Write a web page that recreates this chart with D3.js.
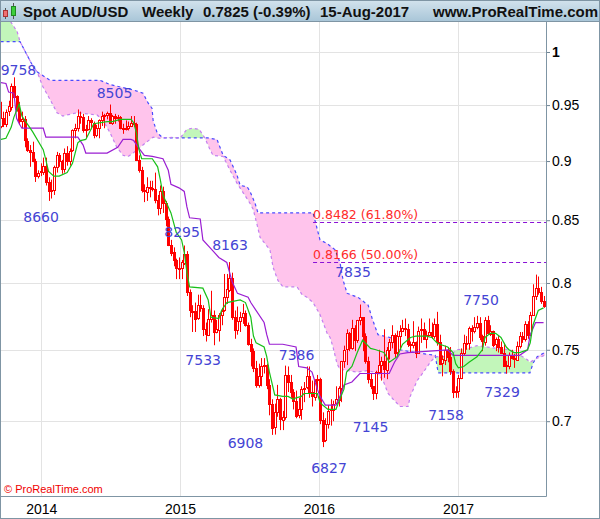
<!DOCTYPE html>
<html><head><meta charset="utf-8">
<script src="https://cdn.jsdelivr.net/npm/d3@7"></script>
<style>body{margin:0;background:#fff}svg{display:block}</style>
</head><body><svg id="c" width="600" height="519"></svg>
<script>
// ---------- DATA ----------
const headerTexts = ["Spot AUD/USD", "Weekly", "0.7825 (-0.39%)", "15-Aug-2017", "www.ProRealTime.com"];
const firstWeek = "2013-09-16";
const opens = [.9310,.9380,.9330,.9440,.9490,.9680,.9580,.9460,.9350,.9370,.9180,.9100,.9080,.9000,.8870,.8900,.8910,.8960,.8820,.8740,
.8750,.8950,.9050,.9000,.8930,.9070,.9000,.9090,.9270,.9290,.9400,.9390,.9270,.9280,.9360,.9340,.9230,.9290,.9360,.9400,
.9410,.9430,.9340,.9400,.9380,.9390,.9290,.9290,.9290,.9310,.9340,.9330,.9010,.8920,.8750,.8740,.8780,.8770,.8760,.8670,
.8600,.8740,.8640,.8510,.8300,.8240,.8180,.8120,.8110,.8160,.8230,.7930,.7790,.7790,.7730,.7830,.7810,.7650,.7610,.7730,
.7760,.7630,.7650,.7760,.7790,.7890,.7950,.8040,.7740,.7640,.7710,.7740,.7770,.7680,.7540,.7490,.7370,.7250,.7310,.7380,
.7390,.7250,.7120,.6960,.7060,.7150,.7010,.7030,.7320,.7270,.7200,.7140,.7040,.7080,.7220,.7230,.7310,.7200,.7170,.7280,
.7290,.7010,.6870,.6980,.7070,.7080,.7120,.7150,.7230,.7420,.7500,.7620,.7510,.7660,.7570,.7720,.7740,.7600,.7420,.7290,
.7240,.7190,.7340,.7390,.7420,.7360,.7500,.7560,.7610,.7480,.7600,.7640,.7660,.7650,.7540,.7540,.7560,.7480,.7640,.7650,
.7580,.7610,.7630,.7600,.7690,.7560,.7400,.7430,.7500,.7450,.7350,.7200,.7210,.7300,.7480,.7550,.7550,.7660,.7640,.7670,
.7700,.7600,.7560,.7720,.7620,.7640,.7540,.7580,.7520,.7480,.7390,.7380,.7460,.7440,.7430,.7530,.7600,.7580,.7690,.7610,
.7760,.7900,.7960,.7930,.7860];
const highs = [.9530,.9440,.9460,.9540,.9700,.9758,.9590,.9530,.9440,.9400,.9200,.9140,.9170,.9020,.8920,.8980,.9030,.9030,.8860,.8840,
.8960,.9080,.9070,.9010,.9110,.9130,.9110,.9280,.9330,.9460,.9440,.9420,.9320,.9400,.9380,.9350,.9320,.9370,.9440,.9420,
.9440,.9505,.9410,.9420,.9410,.9400,.9330,.9360,.9350,.9400,.9400,.9340,.9050,.8950,.8800,.8860,.8830,.8830,.8900,.8710,
.8790,.8780,.8660,.8530,.8340,.8280,.8190,.8200,.8180,.8295,.8250,.7950,.7830,.7850,.7910,.7910,.7830,.7700,.7800,.7940,
.7790,.7720,.7770,.7810,.8070,.8070,.8163,.8080,.7790,.7820,.7780,.7840,.7790,.7700,.7580,.7510,.7420,.7400,.7440,.7440,
.7400,.7290,.7150,.7120,.7250,.7160,.7070,.7386,.7380,.7320,.7220,.7210,.7160,.7240,.7270,.7380,.7380,.7280,.7290,.7320,
.7300,.7060,.7020,.7110,.7150,.7140,.7240,.7240,.7420,.7530,.7650,.7630,.7720,.7680,.7720,.7835,.7740,.7620,.7450,.7330,
.7240,.7350,.7500,.7450,.7650,.7520,.7580,.7680,.7620,.7640,.7680,.7720,.7730,.7690,.7560,.7710,.7560,.7670,.7730,.7700,
.7640,.7730,.7700,.7730,.7780,.7610,.7460,.7530,.7520,.7520,.7360,.7240,.7320,.7510,.7610,.7600,.7670,.7680,.7740,.7750,
.7740,.7610,.7740,.7750,.7680,.7640,.7590,.7600,.7560,.7550,.7420,.7480,.7500,.7470,.7560,.7630,.7630,.7710,.7710,.7780,
.7990,.8065,.8050,.7970,.7900];
const lows = [.9290,.9300,.9300,.9400,.9450,.9570,.9440,.9320,.9290,.9120,.9080,.8950,.8990,.8820,.8850,.8870,.8880,.8790,.8660,.8680,
.8710,.8900,.8950,.8890,.8900,.8960,.8960,.9080,.9200,.9260,.9330,.9250,.9200,.9270,.9280,.9200,.9210,.9200,.9310,.9290,
.9370,.9330,.9320,.9330,.9350,.9280,.9240,.9270,.9270,.9300,.9300,.9000,.8900,.8730,.8650,.8660,.8690,.8740,.8640,.8540,
.8550,.8560,.8450,.8290,.8210,.8130,.8030,.8030,.8030,.8140,.7900,.7740,.7630,.7630,.7720,.7780,.7600,.7560,.7600,.7700,
.7533,.7620,.7560,.7680,.7780,.7840,.7930,.7720,.7580,.7610,.7630,.7690,.7670,.7530,.7380,.7340,.7230,.7230,.7240,.7330,
.7220,.7040,.6908,.6910,.7030,.6940,.6940,.7010,.7200,.7160,.7080,.7020,.7020,.7010,.7130,.7220,.7160,.7100,.7140,.7220,
.6980,.6827,.6860,.6950,.6970,.7000,.7110,.7100,.7130,.7370,.7390,.7490,.7500,.7490,.7550,.7680,.7490,.7400,.7260,.7220,
.7145,.7150,.7330,.7280,.7300,.7290,.7430,.7510,.7440,.7460,.7500,.7630,.7600,.7520,.7480,.7510,.7440,.7480,.7550,.7580,
.7510,.7600,.7580,.7580,.7530,.7390,.7310,.7390,.7410,.7320,.7158,.7160,.7160,.7290,.7460,.7500,.7500,.7560,.7620,.7650,
.7570,.7490,.7530,.7610,.7600,.7520,.7490,.7480,.7470,.7390,.7329,.7360,.7430,.7370,.7430,.7510,.7550,.7560,.7580,.7600,
.7750,.7870,.7910,.7840,.7810];
const closes = [.9380,.9330,.9440,.9490,.9680,.9580,.9460,.9350,.9370,.9180,.9100,.9080,.9000,.8870,.8900,.8910,.8960,.8820,.8740,.8750,
.8950,.9050,.9000,.8930,.9070,.9000,.9090,.9270,.9290,.9400,.9390,.9270,.9280,.9360,.9340,.9230,.9290,.9360,.9400,.9410,
.9430,.9340,.9400,.9380,.9390,.9290,.9290,.9290,.9310,.9340,.9330,.9010,.8920,.8750,.8740,.8780,.8770,.8760,.8670,.8600,
.8740,.8640,.8510,.8300,.8240,.8180,.8120,.8110,.8160,.8230,.7930,.7790,.7790,.7730,.7830,.7810,.7650,.7610,.7730,.7760,
.7630,.7650,.7760,.7790,.7890,.7950,.8040,.7740,.7640,.7710,.7740,.7770,.7680,.7540,.7490,.7370,.7250,.7310,.7380,.7390,
.7250,.7120,.6960,.7060,.7150,.7010,.7030,.7320,.7270,.7200,.7140,.7040,.7080,.7220,.7230,.7310,.7200,.7170,.7280,.7290,
.7010,.6870,.6980,.7070,.7080,.7120,.7150,.7230,.7420,.7500,.7620,.7510,.7660,.7570,.7720,.7740,.7600,.7420,.7290,.7240,
.7190,.7340,.7390,.7420,.7360,.7500,.7560,.7610,.7480,.7600,.7640,.7660,.7650,.7540,.7540,.7560,.7480,.7640,.7650,.7580,
.7610,.7630,.7600,.7690,.7560,.7400,.7430,.7500,.7450,.7350,.7200,.7210,.7300,.7480,.7550,.7550,.7660,.7640,.7670,.7700,
.7600,.7560,.7720,.7620,.7640,.7540,.7580,.7520,.7480,.7390,.7380,.7460,.7440,.7430,.7530,.7600,.7580,.7690,.7610,.7760,
.7900,.7960,.7930,.7860,.7825];

// Ichimoku lines: [week index, price]
const tenkan = [[0,.919],[2,.920],[4,.930],[5,.939],[7,.951],[8,.940],[12,.926],[16,.910],[17,.901],[18,.891],[20,.887],[22,.887],[25,.890],[27,.898],[28,.907],[29,.916],[30,.918],[32,.919],[35,.933],[40,.935],[42,.935],[45,.937],[49,.937],[50,.934],[51,.925],[52,.910],[53,.902],[57,.902],[59,.895],[60,.884],[61,.871],[64,.856],[66,.840],[68,.834],[69,.824],[70,.808],[71,.797],[76,.796],[78,.787],[79,.774],[82,.773],[83,.779],[85,.785],[90,.787],[92,.785],[94,.774],[95,.760],[96,.755],[99,.752],[100,.745],[101,.734],[103,.718],[106,.717],[108,.717],[110,.715],[111,.716],[113,.717],[114,.719],[119,.719],[120,.713],[121,.711],[123,.708],[126,.708],[127,.713],[129,.722],[130,.734],[132,.738],[134,.748],[136,.757],[137,.755],[139,.751],[141,.750],[144,.748],[145,.745],[146,.741],[149,.745],[151,.754],[154,.759],[156,.760],[160,.760],[162,.759],[164,.755],[165,.754],[168,.752],[170,.748],[171,.740],[172,.737],[174,.738],[176,.741],[179,.745],[181,.750],[182,.759],[184,.762],[186,.762],[188,.759],[190,.752],[191,.750],[193,.748],[195,.748],[198,.750],[199,.755],[200,.768],[202,.779],[204,.781]];
const kijun = [[0,.971],[2,.970],[3,.962],[5,.961],[6,.938],[7,.933],[8,.929],[16,.929],[17,.921],[29,.921],[31,.914],[32,.907],[40,.907],[44,.912],[46,.919],[49,.919],[50,.918],[52,.911],[54,.905],[57,.904],[61,.902],[63,.892],[64,.880],[67,.877],[69,.874],[70,.861],[71,.852],[75,.851],[76,.834],[79,.827],[82,.820],[85,.816],[87,.801],[89,.792],[93,.789],[94,.785],[99,.770],[100,.761],[101,.754],[106,.754],[111,.752],[112,.738],[115,.737],[117,.734],[119,.722],[120,.717],[122,.711],[126,.711],[128,.719],[129,.725],[132,.727],[135,.733],[146,.733],[148,.741],[150,.747],[153,.748],[168,.750],[170,.746],[195,.746],[198,.750],[199,.761],[201,.770],[204,.770]];
const spanA = [[0,1.045],[6.2,1.020],[7.3,1.010],[12.2,.986],[13.7,.981],[15.9,.967],[18.6,.955],[21.2,.943],[23.4,.940],[25,.941],[28.7,.943],[32.5,.942],[36.2,.941],[38.5,.936],[41.1,.925],[43.7,.912],[46,.905],[47.9,.904],[49.8,.907],[52.4,.912],[55,.917],[57.3,.921],[59.9,.920],[64.8,.921],[67.4,.920],[70,.928],[72.3,.929],[74.6,.928],[76.8,.920],[78.7,.910],[79.8,.905],[83.6,.904],[84.3,.901],[86.2,.892],[88.8,.881],[91.1,.873],[93.7,.864],[94.9,.859],[96.4,.846],[97.5,.836],[101.2,.826],[102.4,.812],[104.2,.802],[106.1,.797],[111.4,.797],[113.3,.791],[115.1,.789],[117.4,.785],[120,.776],[122.7,.762],[123.8,.759],[124.9,.752],[126.4,.740],[127.5,.736],[133.9,.734],[137.7,.735],[141.5,.7335],[143.7,.728],[145.6,.719],[147.5,.715],[150.1,.710],[153.1,.710],[153.9,.717],[156.5,.728],[158.7,.7335],[161.4,.741],[163.3,.745],[167.8,.745],[171.5,.750],[175.3,.751],[179,.753],[182.8,.752],[186.5,.751],[191.4,.750],[195.2,.746],[197.8,.743],[198.9,.741],[201.6,.744],[204.5,.746]];
const spanB = [[0,1.010],[7.3,1.010],[12.2,.986],[13.7,.981],[18.6,.973],[37.4,.973],[41.1,.969],[49.8,.964],[53.5,.961],[55.4,.952],[56.9,.947],[57.3,.936],[58.8,.925],[61,.9203],[78,.9203],[81.3,.919],[83.6,.905],[86.2,.901],[88.8,.888],[90,.879],[92.6,.878],[93.7,.874],[95.6,.864],[96.7,.856],[117.4,.856],[120,.834],[122.7,.831],[125.7,.826],[127.5,.816],[128.7,.802],[130.2,.792],[134.3,.789],[138.1,.783],[139.6,.773],[141.8,.761],[146.3,.759],[149,.755],[150.1,.750],[155.7,.748],[163.3,.746],[164.4,.7335],[198.9,.7335],[200.1,.7405],[201.6,.745],[204.5,.748]];

const fibLevels = [0.8482, 0.8166];
const fibTexts = ["0.8482 (61.80%)", "0.8166 (50.00%)"];
const fibStartIndex = 117.4;

const swingTexts  = ["9758","8505","8660","8295","8163","7533","7386","6908","6827","7145","7158","7329","7750","7835"];
const swingIndex  = [6.7, 42.8, 15.2, 68.2, 86.2, 76.1, 111.2, 92.0, 123.4, 139.0, 167.4, 188.4, 180.5, 132.4];
const swingPrice  = [.978, .9565, .8485, .8363, .8260, .7390, .7427, .6820, .6657, .6927, .7008, .7165, .7832, .8046];

const yTicks = [1, 0.95, 0.9, 0.85, 0.8, 0.75, 0.7];
const yTickLabels = ["1","0.95","0.9","0.85","0.8","0.75","0.7"];
const years = ["2014","2015","2016","2017"];

// ---------- CHART ----------
const svg = d3.select("#c");
const P = {l:1, r:546, t:22, b:496};
const DAY = 864e5;
const t0 = Date.parse(firstWeek + "T00:00:00Z");
const dateOf = i => new Date(t0 + i*7*DAY);
const yearDates = years.map(s => new Date(Date.parse(s + "-01-01T00:00:00Z")));
const x = d3.scaleUtc().domain([yearDates[0], yearDates[3]]).range([41.3, 458]);
const y = d3.scaleLog().domain([0.6512, 1.0284]).range([496, 23]);
const xi = i => x(dateOf(i));

const defs = svg.append("defs");
const hg = defs.append("linearGradient").attr("id","hg").attr("x1",0).attr("y1",0).attr("x2",0).attr("y2",1);
hg.append("stop").attr("offset","0%").attr("stop-color","#d3e3ed");
hg.append("stop").attr("offset","100%").attr("stop-color","#a9c6d8");
defs.append("clipPath").attr("id","pc").append("rect")
  .attr("x",P.l).attr("y",P.t).attr("width",P.r-P.l).attr("height",P.b-P.t);

svg.append("rect").attr("width",600).attr("height",519).attr("fill","#fff");

// gridlines
const grid = svg.append("g").attr("clip-path","url(#pc)");
grid.selectAll("line.h").data(yTicks).join("line")
  .attr("x1",P.l).attr("x2",P.r).attr("y1",d=>Math.round(y(d))+0.5).attr("y2",d=>Math.round(y(d))+0.5)
  .attr("stroke","#e3e3e3");
grid.selectAll("line.v").data(yearDates).join("line")
  .attr("y1",P.t).attr("y2",P.b).attr("x1",d=>Math.round(x(d))+0.5).attr("x2",d=>Math.round(x(d))+0.5)
  .attr("stroke","#e3e3e3");

const plot = svg.append("g").attr("clip-path","url(#pc)");
const line = d3.line().x(d=>xi(d[0])).y(d=>y(d[1]));

// cloud fill
const ptsA = spanA.map(d=>[xi(d[0]), y(d[1])]);
const ptsB = spanB.map(d=>[xi(d[0]), y(d[1])]);
const pl = d3.line();
const band = ptsA.concat(ptsB.slice().reverse());
const xa0 = ptsA[0][0], xa1 = ptsA[ptsA.length-1][0];
defs.append("clipPath").attr("id","abv").append("path")
  .attr("d", pl(ptsA.concat([[xa1,-2000],[xa0,-2000]])) + "Z");
defs.append("clipPath").attr("id","blw").append("path")
  .attr("d", pl(ptsA.concat([[xa1,2000],[xa0,2000]])) + "Z");
plot.append("g").attr("clip-path","url(#abv)").append("path")
  .attr("d", pl(band)+"Z").attr("fill","#ffc4ec");
plot.append("g").attr("clip-path","url(#blw)").append("path")
  .attr("d", pl(band)+"Z").attr("fill","#c2f6ba");
plot.append("path").attr("d",line(spanB)).attr("fill","none").attr("stroke","#4a4aff")
  .attr("stroke-width",1.2).attr("stroke-dasharray","3,3");
plot.append("path").attr("d",line(spanA)).attr("fill","none").attr("stroke","#c57ef0")
  .attr("stroke-width",1.2).attr("stroke-dasharray","3,3");

// fib lines
const fx0 = xi(fibStartIndex);
plot.selectAll("line.fib").data(fibLevels).join("line")
  .attr("x1",fx0).attr("x2",P.r).attr("y1",d=>Math.round(y(d))+0.5).attr("y2",d=>Math.round(y(d))+0.5)
  .attr("stroke","#8a12d6").attr("stroke-width",1.2).attr("stroke-dasharray","4,3");
plot.selectAll("text.fib").data(fibLevels).join("text")
  .attr("x",fx0).attr("y",d=>y(d)-3).text((d,i)=>fibTexts[i])
  .attr("font-family","DejaVu Sans, Verdana, sans-serif").attr("font-size",12.5).attr("fill","#ff2a2a");

// candles
const idx = d3.range(closes.length);
const cg = plot.append("g");
cg.selectAll("line").data(idx).join("line")
  .attr("x1",i=>Math.round(xi(i))+0.5).attr("x2",i=>Math.round(xi(i))+0.5)
  .attr("y1",i=>y(highs[i])).attr("y2",i=>y(lows[i]))
  .attr("stroke","#ff0000").attr("stroke-width",1);
cg.selectAll("rect").data(idx).join("rect")
  .attr("x",i=>Math.round(xi(i))-0.5).attr("width",2)
  .attr("y",i=>Math.round(y(Math.max(opens[i],closes[i])))+0.5)
  .attr("height",i=>Math.max(1, Math.round(y(Math.min(opens[i],closes[i])) - y(Math.max(opens[i],closes[i])))))
  .attr("fill",i=>closes[i]>=opens[i] ? "#ffffff" : "#ff0000")
  .attr("stroke","#ff0000").attr("stroke-width",1);

// tenkan / kijun
plot.append("path").attr("d",line(kijun)).attr("fill","none").attr("stroke","#9a1ed2").attr("stroke-width",1.2);
plot.append("path").attr("d",line(tenkan)).attr("fill","none").attr("stroke","#18c018").attr("stroke-width",1.2);

// swing labels
plot.selectAll("text.sw").data(swingTexts).join("text")
  .attr("x",(d,i)=>xi(swingIndex[i])).attr("y",(d,i)=>y(swingPrice[i]))
  .attr("text-anchor","middle").text(d=>d)
  .attr("font-family","DejaVu Sans, Verdana, sans-serif").attr("font-size",14).attr("fill","#4444d4");

// copyright
svg.append("text").attr("x",4).attr("y",493).text("\u00a9 ProRealTime.com")
  .attr("font-family","Liberation Sans, Arial, sans-serif").attr("font-size",11).attr("fill","#f00000");

// axes
const ya = svg.append("g").attr("transform",`translate(${P.r},0)`)
  .call(d3.axisRight(y).tickValues(yTicks).tickFormat((d,i)=>yTickLabels[i]).tickSize(4).tickPadding(2));
ya.select(".domain").remove();
ya.selectAll("line").attr("stroke","#6f8494");
ya.selectAll("text").attr("font-family","Liberation Sans, Arial, sans-serif").attr("font-size",14).attr("fill","#000")
  .attr("font-weight",(d,i)=>i===0?"bold":"normal");
const xaxis = svg.append("g").attr("transform",`translate(0,${P.b})`)
  .call(d3.axisBottom(x).tickValues(yearDates).tickFormat((d,i)=>years[i]).tickSize(0).tickPadding(8));
xaxis.select(".domain").remove();
xaxis.selectAll("text").attr("font-family","Liberation Sans, Arial, sans-serif").attr("font-size",14).attr("fill","#000");

// plot border
svg.append("line").attr("x1",P.r+0.5).attr("x2",P.r+0.5).attr("y1",P.t).attr("y2",P.b+0.5).attr("stroke","#7f95a4");
svg.append("line").attr("x1",0).attr("x2",P.r+0.5).attr("y1",P.b+0.5).attr("y2",P.b+0.5).attr("stroke","#7f95a4");

// header
svg.append("rect").attr("x",0).attr("y",0).attr("width",600).attr("height",21).attr("fill","url(#hg)");
svg.append("line").attr("x1",0).attr("x2",600).attr("y1",21.5).attr("y2",21.5).attr("stroke","#7f95a4");
const ic = svg.append("g");
ic.append("line").attr("x1",5.5).attr("x2",5.5).attr("y1",8).attr("y2",19).attr("stroke","#555");
ic.append("rect").attr("x",3.5).attr("y",10.5).attr("width",4).attr("height",6).attr("fill","#f07070").attr("stroke","#a33");
ic.append("line").attr("x1",13.5).attr("x2",13.5).attr("y1",3).attr("y2",19).attr("stroke","#555");
ic.append("rect").attr("x",11.5).attr("y",6.5).attr("width",4).attr("height",9).attr("fill","#3ccf3c").attr("stroke","#282");
const hx = [23, 142, 203, 320, 433];
svg.selectAll("text.hd").data(headerTexts).join("text")
  .attr("x",(d,i)=>hx[i]).attr("y",16.5).text(d=>d)
  .attr("font-family","Liberation Sans, Arial, sans-serif").attr("font-weight","bold").attr("font-size",15).attr("fill","#111");

// outer frame
svg.append("rect").attr("x",0.5).attr("y",0.5).attr("width",599).attr("height",518).attr("fill","none").attr("stroke","#7f95a4");
</script></body></html>
